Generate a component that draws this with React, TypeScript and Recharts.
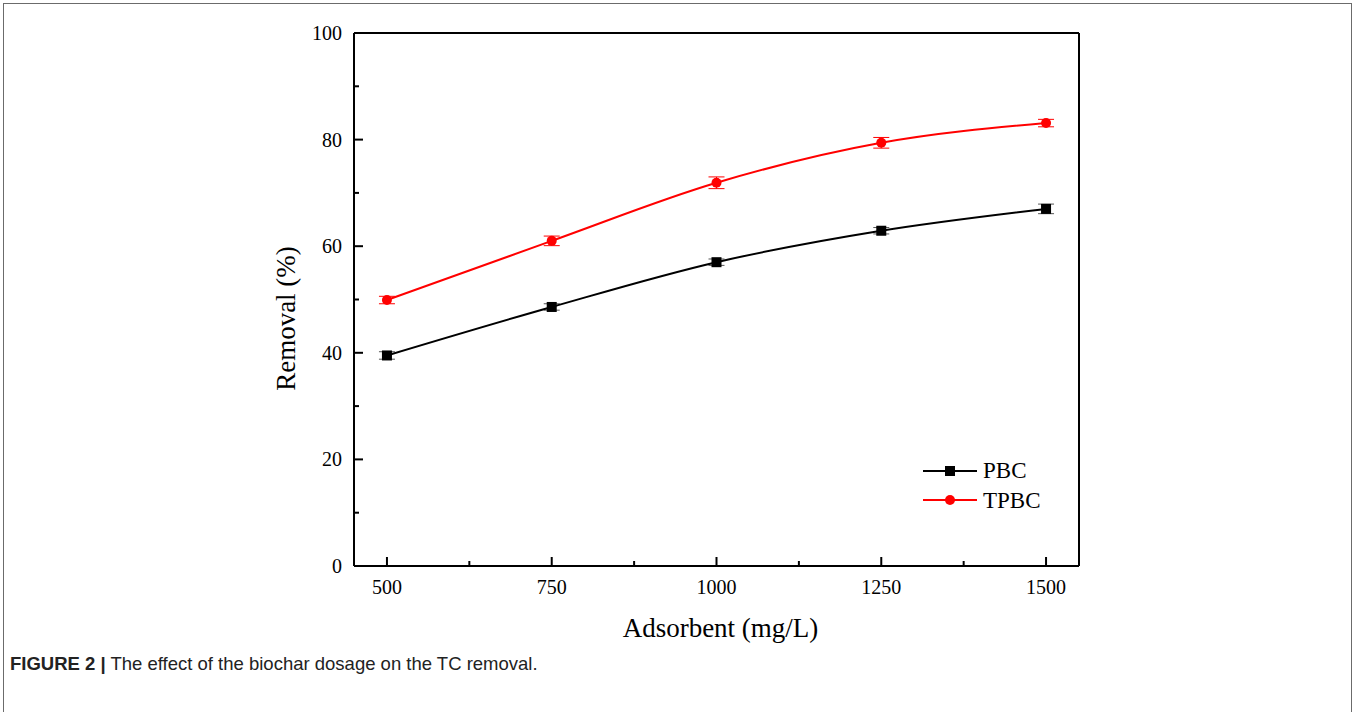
import React from "react";
import {
  LineChart,
  Line,
  XAxis,
  YAxis,
  ErrorBar,
  ReferenceLine,
  Label,
} from "recharts";

const adsorbent = [500, 750, 1000, 1250, 1500];
const pbc = [39.5, 48.6, 57.0, 62.9, 67.0];
const tpbc = [49.9, 61.0, 71.9, 79.4, 83.1];
const pbcErr = [0.7, 0.6, 0.6, 0.6, 0.9];
const tpbcErr = [0.7, 0.9, 1.1, 1.0, 0.7];
const xTicks = [500, 625, 750, 875, 1000, 1125, 1250, 1375, 1500];
const xMajor = [500, 750, 1000, 1250, 1500];
const yTicks = [0, 10, 20, 30, 40, 50, 60, 70, 80, 90, 100];
const yMajor = [0, 20, 40, 60, 80, 100];
const seriesNames = ["PBC", "TPBC"];

const data = adsorbent.map((x, i) => ({
  x,
  pbc: pbc[i],
  tpbc: tpbc[i],
  pbcErr: pbcErr[i],
  tpbcErr: tpbcErr[i],
}));

const SERIF = "'Liberation Serif', 'DejaVu Serif', serif";

const XTick = (props: any) => {
  const { x, y, payload } = props;
  const major = xMajor.includes(payload.value);
  return (
    <g>
      <line x1={x} x2={x} y1={y} y2={y - (major ? 9 : 5)} stroke="#000" strokeWidth={2} />
      {major && (
        <text x={x} y={y + 28} textAnchor="middle" fontFamily={SERIF} fontSize={20} fill="#000">
          {payload.value}
        </text>
      )}
    </g>
  );
};

const YTick = (props: any) => {
  const { x, y, payload } = props;
  const major = yMajor.includes(payload.value);
  return (
    <g>
      <line x1={x} x2={x + (major ? 9 : 5)} y1={y} y2={y} stroke="#000" strokeWidth={2} />
      {major && (
        <text x={x - 12} y={y + 7} textAnchor="end" fontFamily={SERIF} fontSize={20} fill="#000">
          {payload.value}
        </text>
      )}
    </g>
  );
};

const SquareDot = (props: any) => {
  const { cx, cy, key } = props;
  if (cx == null || cy == null) return <g key={key} />;
  return <rect key={key} x={cx - 5} y={cy - 5} width={10} height={10} fill="#000" />;
};

const CircleDot = (props: any) => {
  const { cx, cy, key } = props;
  if (cx == null || cy == null) return <g key={key} />;
  return <circle key={key} cx={cx} cy={cy} r={5} fill="#ff0000" />;
};

const LegendBox = () => (
  <svg width={140} height={70} style={{ position: "absolute", left: 920, top: 455 }}>
    <line x1={3} x2={57} y1={16} y2={16} stroke="#000" strokeWidth={2} />
    <rect x={25} y={11} width={10} height={10} fill="#000" />
    <text x={63} y={23} fontFamily={SERIF} fontSize={23} fill="#000">{seriesNames[0]}</text>
    <line x1={3} x2={57} y1={45} y2={45} stroke="#ff0000" strokeWidth={2} />
    <circle cx={30} cy={45} r={5} fill="#ff0000" />
    <text x={63} y={53} fontFamily={SERIF} fontSize={23} fill="#000">{seriesNames[1]}</text>
  </svg>
);

export default function App() {
  return (
    <div style={{ position: "absolute", left: 0, top: 0, width: 1359, height: 712, background: "#fff", overflow: "hidden" }}>
      <div
        style={{
          position: "absolute",
          left: 3,
          top: 3,
          width: 1349,
          height: 720,
          border: "1.5px solid #6b6b6b",
          boxSizing: "border-box",
        }}
      />
      <div style={{ position: "absolute", left: 0, top: 0 }}>
        <LineChart
          width={1359}
          height={712}
          data={data}
          margin={{ top: 33, right: 280, bottom: 86, left: 300 }}
        >
          <XAxis
            type="number"
            dataKey="x"
            domain={[450, 1550]}
            ticks={xTicks}
            interval={0}
            tick={<XTick />}
            tickLine={false}
            tickSize={0}
            tickMargin={0}
            height={60}
            axisLine={{ stroke: "#000", strokeWidth: 2 }}
          >
            <Label
              content={(p: any) => {
                const vb = p.viewBox;
                return (
                  <text
                    x={vb.x + vb.width / 2 + 4}
                    y={vb.y + 71}
                    textAnchor="middle"
                    fontFamily={SERIF}
                    fontSize={27}
                    fill="#000"
                  >
                    Adsorbent (mg/L)
                  </text>
                );
              }}
            />
          </XAxis>
          <YAxis
            type="number"
            domain={[0, 100]}
            ticks={yTicks}
            interval={0}
            tick={<YTick />}
            tickLine={false}
            tickSize={0}
            tickMargin={0}
            width={54}
            axisLine={{ stroke: "#000", strokeWidth: 2 }}
          >
            <Label
              content={(p: any) => {
                const vb = p.viewBox;
                const cy = vb.y + vb.height / 2 + 19;
                return (
                  <text
                    x={295}
                    y={cy}
                    transform={`rotate(-90, 295, ${cy})`}
                    textAnchor="middle"
                    fontFamily={SERIF}
                    fontSize={27}
                    fill="#000"
                  >
                    Removal (%)
                  </text>
                );
              }}
            />
          </YAxis>
          <ReferenceLine y={100} stroke="#000" strokeWidth={2} />
          <ReferenceLine x={1550} stroke="#000" strokeWidth={2} />
          <Line
            type="monotone"
            dataKey="pbc"
            name={seriesNames[0]}
            stroke="#000"
            strokeWidth={2}
            dot={SquareDot}
            isAnimationActive={false}
          >
            <ErrorBar dataKey="pbcErr" direction="y" width={8} stroke="#555" strokeWidth={1} />
          </Line>
          <Line
            type="monotone"
            dataKey="tpbc"
            name={seriesNames[1]}
            stroke="#ff0000"
            strokeWidth={2}
            dot={CircleDot}
            isAnimationActive={false}
          >
            <ErrorBar dataKey="tpbcErr" direction="y" width={8} stroke="#ff0000" strokeWidth={1} />
          </Line>
        </LineChart>
      </div>
      <LegendBox />
      <div
        style={{
          position: "absolute",
          left: 10,
          top: 653,
          fontFamily: "'Liberation Sans', Arial, sans-serif",
          fontSize: 18.5,
          color: "#222",
          whiteSpace: "nowrap",
        }}
      >
        <b>FIGURE 2 |</b> The effect of the biochar dosage on the TC removal.
      </div>
    </div>
  );
}
